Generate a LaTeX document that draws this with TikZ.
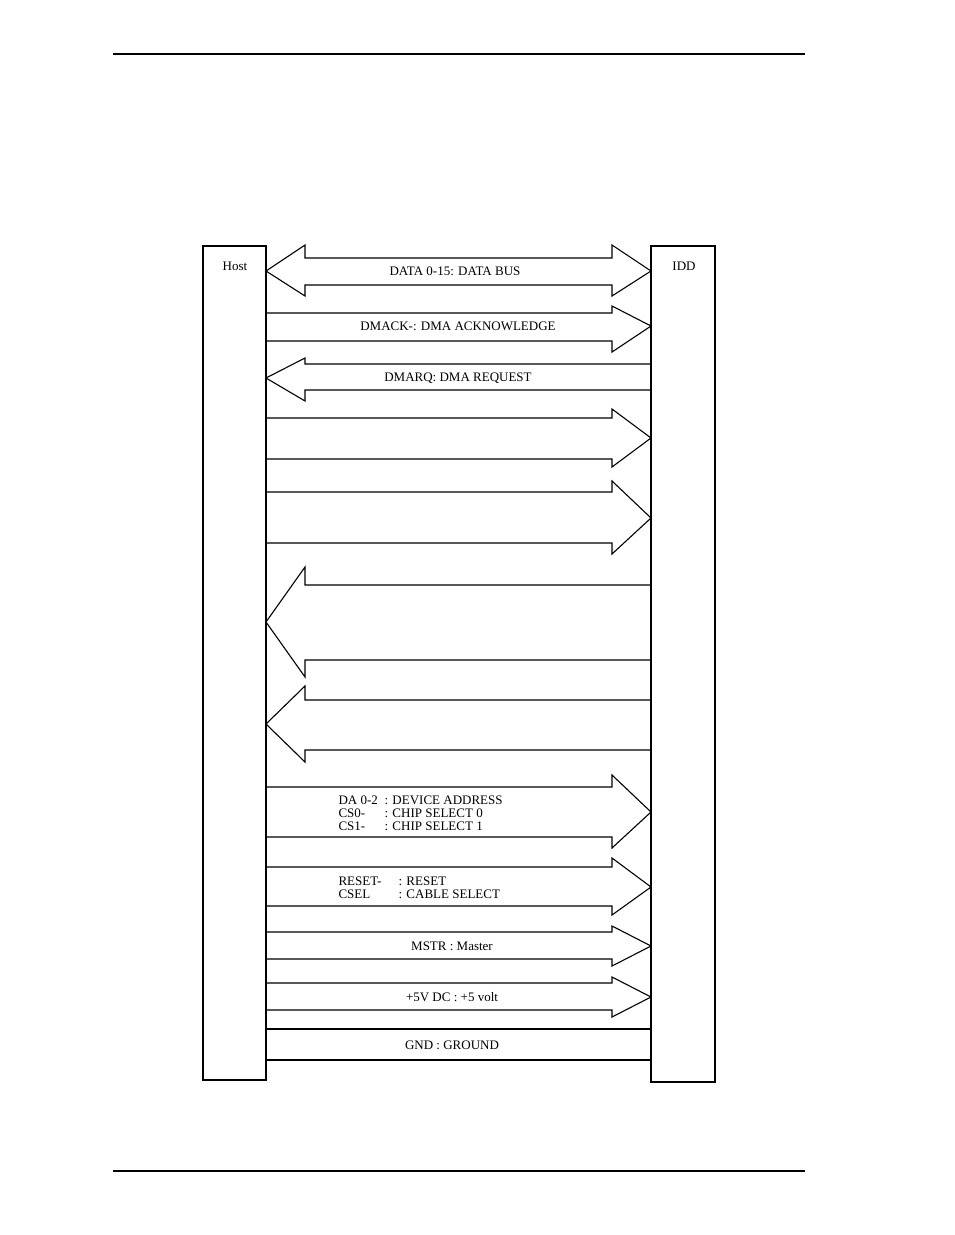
\documentclass[tikz,border=0pt]{standalone}
\usepackage{fontspec}
\setmainfont{Liberation Serif}
\begin{document}
\begin{tikzpicture}[x=1pt,y=-1pt,line width=1.1pt,
  lbl/.style={font=\fontsize{13}{13}\selectfont,inner sep=0pt},
  llbl/.style={font=\fontsize{13}{13}\selectfont,inner sep=0pt,anchor=west}]
\useasboundingbox (0,0) rectangle (954,1235);
\draw (113,54) -- (805,54);
\draw (113,1171) -- (805,1171);
\draw (203,246) rectangle (266,1080);
\draw (651,246) rectangle (715,1082);
\node[lbl] (host) at (235,266) {Host};
\node[lbl] (idd) at (684,266) {IDD};
\newcommand{\rarr}[5]{\draw (266,#1) -- (612,#1) -- (612,#3) -- (651,#5) -- (612,#4) -- (612,#2) -- (266,#2);}
\newcommand{\larr}[5]{\draw (651,#1) -- (305,#1) -- (305,#3) -- (266,#5) -- (305,#4) -- (305,#2) -- (651,#2);}
% double arrow
\draw (305,258) -- (612,258) -- (612,245) -- (651,271) -- (612,296) -- (612,285) -- (305,285) -- (305,296) -- (266,271) -- (305,245) -- cycle;
\node[lbl] (t1) at (455,271) {DATA 0-15: DATA BUS};
\rarr{313}{341}{306}{352}{326}
\node[lbl] (t2) at (458,326) {DMACK-: DMA ACKNOWLEDGE};
\larr{364}{390}{358}{401}{378}
\node[lbl] (t3) at (458,378) {DMARQ: DMA REQUEST};
\rarr{418}{459}{409}{467}{438}
\rarr{492}{543}{481}{554}{518}
\larr{585}{660}{567}{677}{622}
\larr{700}{750}{686}{762}{724}
\rarr{787}{837}{775}{848}{812}
\node[llbl] (t4a) at (338,800) {DA 0-2};
\node[llbl] (t4b) at (338,813) {CS0-};
\node[llbl] (t4c) at (338,826) {CS1-};
\node[llbl] (t4d) at (384,800) {: DEVICE ADDRESS};
\node[llbl] (t4e) at (384,813) {: CHIP SELECT 0};
\node[llbl] (t4f) at (384,826) {: CHIP SELECT 1};
\rarr{867}{906}{858}{915}{887}
\node[llbl] (t5a) at (338,881) {RESET-};
\node[llbl] (t5b) at (338,894) {CSEL};
\node[llbl] (t5c) at (398,881) {: RESET};
\node[llbl] (t5d) at (398,894) {: CABLE SELECT};
\rarr{932}{959}{926}{966}{946}
\node[lbl] (t6) at (452,946) {MSTR : Master};
\rarr{983}{1010}{977}{1017}{997}
\node[lbl] (t7) at (452,997) {+5V DC : +5 volt};
\draw (266,1029) -- (651,1029);
\draw (266,1060) -- (651,1060);
\node[lbl] (t8) at (452,1045) {GND : GROUND};
\end{tikzpicture}
\end{document}
